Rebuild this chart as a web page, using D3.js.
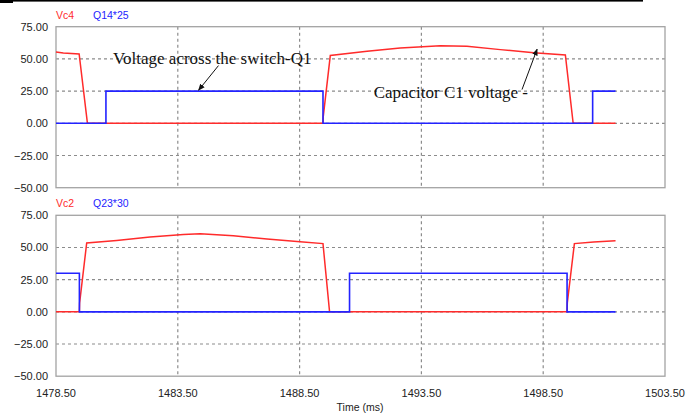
<!DOCTYPE html>
<html>
<head>
<meta charset="utf-8">
<script src="https://cdn.jsdelivr.net/npm/d3@7"></script>
<style>
  body { margin: 0; background: #fff; }
  svg { display: block; }
</style>
</head>
<body>
<div id="chart"></div>
<script>
(function() {

// Time axis and value axis ticks (ms / volts).
var timeTicks = [1478.5, 1483.5, 1488.5, 1493.5, 1498.5, 1503.5];
var valueTicks = [75, 50, 25, 0, -25, -50];

// Upper panel: capacitor C4 voltage and switch Q14 gate (scaled by 25).
var vc4 = [
  [1478.5, 55.4], [1478.8, 54.6], [1479.45, 53.9], [1479.79, 0],
  [1489.46, 0], [1489.47, 5], [1489.76, 52.6], [1491.27, 55.9],
  [1492.63, 58.5], [1494.28, 60.3], [1495.37, 59.8], [1496.74, 57.2],
  [1498.11, 54.7], [1499.41, 53.1], [1499.73, 0], [1501.47, 0]
];
var q14 = [
  [1478.5, 0], [1480.55, 25], [1489.46, 0], [1500.53, 25], [1501.47, 25]
];

// Lower panel: capacitor C2 voltage and switch Q23 gate (scaled by 30).
var vc2 = [
  [1478.5, 0], [1479.46, 0], [1479.47, 7], [1479.76, 53.5], [1480.99, 55.5],
  [1482.36, 58.2], [1483.73, 60.0], [1484.42, 60.7], [1485.78, 59.2],
  [1487.16, 56.6], [1488.52, 54.5], [1489.46, 53], [1489.73, 0],
  [1499.48, 0], [1499.49, 7], [1499.78, 53], [1500.57, 54.3], [1501.47, 55.3]
];
var q23 = [
  [1478.5, 30], [1479.46, 0], [1490.55, 30], [1499.48, 0], [1501.47, 0]
];

var width = 699,
    height = 414,
    plotLeft = 56,
    plotRight = 665,
    red = '#ff2b2b',
    blue = '#2323ff',
    gridColor = '#8c8c8c',
    axisFont = 'Arial, "Liberation Sans", sans-serif',
    noteFont = '"Times New Roman", "Liberation Serif", serif';

var svg = d3.select('#chart').append('svg')
    .attr('width', width)
    .attr('height', height);

// Arrowhead for the annotation pointers.
svg.append('defs').append('marker')
    .attr('id', 'arrow')
    .attr('viewBox', '0 0 10 10')
    .attr('refX', 9)
    .attr('refY', 5)
    .attr('markerWidth', 7)
    .attr('markerHeight', 7)
    .attr('orient', 'auto')
  .append('path')
    .attr('d', 'M0,1 L10,5 L0,9 Z')
    .attr('fill', '#111');

// Black rule along the top of the page.
svg.append('rect').attr('x', 0).attr('y', 0).attr('width', 13).attr('height', 3)
    .attr('fill', '#000');
svg.append('rect').attr('x', 0).attr('y', 0).attr('width', 643).attr('height', 1.6)
    .attr('fill', '#000');

var x = d3.scaleLinear()
    .domain([timeTicks[0], timeTicks[timeTicks.length - 1]])
    .range([plotLeft, plotRight]);

var panels = [
  { top: 26.7, bottom: 187.7, labels: ['Vc4', 'Q14*25'], red: vc4, blue: q14 },
  { top: 215.3, bottom: 376.2, labels: ['Vc2', 'Q23*30'], red: vc2, blue: q23 }
];

panels.forEach(function(p, idx) {
  var y = d3.scaleLinear().domain([-50, 75]).range([p.bottom, p.top]);
  p.y = y;
  var g = svg.append('g');

  g.append('rect')
      .attr('x', plotLeft).attr('y', p.top)
      .attr('width', plotRight - plotLeft).attr('height', p.bottom - p.top)
      .attr('fill', '#fff');

  // Dotted grid.
  g.selectAll('.hgrid').data(valueTicks.slice(1, -1))
    .enter().append('line')
      .attr('x1', plotLeft).attr('x2', plotRight)
      .attr('y1', function(d) { return y(d); })
      .attr('y2', function(d) { return y(d); })
      .attr('stroke', gridColor).attr('stroke-width', 1.2)
      .attr('stroke-dasharray', '3,3');
  g.selectAll('.vgrid').data(timeTicks.slice(1, -1))
    .enter().append('line')
      .attr('x1', function(d) { return x(d); })
      .attr('x2', function(d) { return x(d); })
      .attr('y1', p.top).attr('y2', p.bottom)
      .attr('stroke', gridColor).attr('stroke-width', 1.2)
      .attr('stroke-dasharray', '3,3');

  g.append('rect')
      .attr('x', plotLeft).attr('y', p.top)
      .attr('width', plotRight - plotLeft).attr('height', p.bottom - p.top)
      .attr('fill', 'none').attr('stroke', '#a3a3a3').attr('stroke-width', 1.3);

  // Y tick labels.
  g.selectAll('.ylab').data(valueTicks)
    .enter().append('text')
      .attr('x', 48)
      .attr('y', function(d) { return y(d) + 4; })
      .attr('text-anchor', 'end')
      .attr('font-family', axisFont).attr('font-size', 11)
      .attr('fill', '#222')
      .text(function(d) { return d3.format('.2f')(d); });

  // Legend names.
  g.append('text')
      .attr('x', plotLeft).attr('y', p.top - 8)
      .attr('font-family', axisFont).attr('font-size', 10.5)
      .attr('fill', red).text(p.labels[0]);
  g.append('text')
      .attr('x', 93).attr('y', p.top - 8)
      .attr('font-family', axisFont).attr('font-size', 10.5)
      .attr('fill', blue).text(p.labels[1]);

  var line = d3.line()
      .x(function(d) { return x(d[0]); })
      .y(function(d) { return y(d[1]); });
  var stepLine = d3.line()
      .curve(d3.curveStepAfter)
      .x(function(d) { return x(d[0]); })
      .y(function(d) { return y(d[1]); });

  g.append('path')
      .attr('d', line(p.red))
      .attr('fill', 'none').attr('stroke', red).attr('stroke-width', 1.5);
  g.append('path')
      .attr('d', stepLine(p.blue))
      .attr('fill', 'none').attr('stroke', blue).attr('stroke-width', 1.6);
});

// Time axis labels under the lower panel.
svg.selectAll('.xlab').data(timeTicks)
  .enter().append('text')
    .attr('x', function(d) { return x(d); })
    .attr('y', 397)
    .attr('text-anchor', 'middle')
    .attr('font-family', axisFont).attr('font-size', 11)
    .attr('fill', '#222')
    .text(function(d) { return d3.format('.2f')(d); });

svg.append('text')
    .attr('x', 360).attr('y', 411)
    .attr('text-anchor', 'middle')
    .attr('font-family', axisFont).attr('font-size', 10.5)
    .attr('fill', '#222')
    .text('Time (ms)');

// Annotations, placed in the upper panel's data units.
var yTop = panels[0].y;
var notes = [
  { text: 'Voltage across the switch-Q1', at: [1480.84, 46.4],
    from: [1485.17, 44.8], to: [1484.35, 25.6] },
  { text: 'Capacitor C1 voltage -', at: [1491.54, 19.7],
    from: [1497.63, 26.2], to: [1498.25, 57.6] }
];

notes.forEach(function(n) {
  svg.append('text')
      .attr('x', x(n.at[0])).attr('y', yTop(n.at[1]))
      .attr('font-family', noteFont).attr('font-size', 17)
      .attr('fill', '#111')
      .text(n.text);
  svg.append('line')
      .attr('x1', x(n.from[0])).attr('y1', yTop(n.from[1]))
      .attr('x2', x(n.to[0])).attr('y2', yTop(n.to[1]))
      .attr('stroke', '#111').attr('stroke-width', 1)
      .attr('marker-end', 'url(#arrow)');
});

})();
</script>
</body>
</html>
